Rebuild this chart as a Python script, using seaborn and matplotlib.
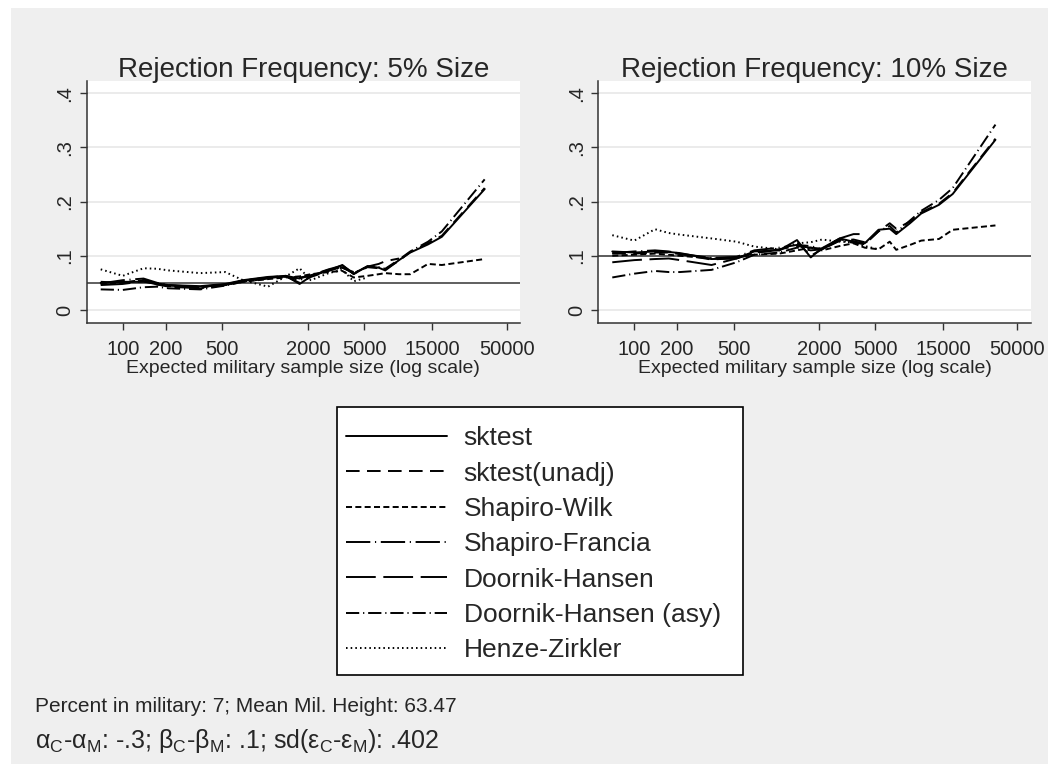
import numpy as np
import pandas as pd
import seaborn as sns
import matplotlib.pyplot as plt
from matplotlib.lines import Line2D
from matplotlib.patches import Rectangle
from matplotlib.ticker import NullLocator

sns.set_theme(style="white")
plt.rcParams['font.family'] = ['Liberation Sans', 'DejaVu Sans']

# expected military sample size (log scale)
sizes = [70, 100, 140, 175, 210, 350, 525, 700, 1050, 1400, 1750, 2100, 2800,
         3500, 4200, 5250, 6300, 7000, 8750, 10500, 14000, 17500, 35000]

tests = ["sktest", "sktest(unadj)", "Shapiro-Wilk", "Shapiro-Francia",
         "Doornik-Hansen", "Doornik-Hansen (asy)", "Henze-Zirkler"]

nan = np.nan
# 5% size panel
rej05_sktest = [0.050, 0.052, 0.052, 0.049, 0.046, 0.044, 0.048, 0.055, 0.061, 0.063, 0.048, 0.062, 0.073,
                0.083, 0.066, 0.081, 0.078, 0.073, 0.092, 0.106, 0.121, 0.135, 0.223]
rej05_unadj = [0.052, 0.050, 0.056, 0.048, 0.045, 0.043, 0.047, 0.054, 0.059, 0.062, 0.050, 0.061, 0.072,
               0.080, 0.067, 0.079, 0.077, 0.075, 0.091, 0.107, 0.123, 0.137, 0.225]
rej05_swilk = [0.048, 0.050, 0.055, 0.047, 0.044, 0.042, 0.046, 0.052, 0.057, 0.060, 0.062, 0.066, 0.070,
               0.072, 0.060, 0.063, 0.066, 0.068, 0.066, 0.066, 0.085, 0.083, 0.094]
rej05_sfrancia = [0.049, 0.055, 0.058, 0.050, 0.046, 0.042, 0.047, 0.054, 0.060, 0.062, 0.055, 0.063, 0.074,
                  0.078, 0.070, nan, nan, nan, nan, nan, nan, nan, nan]
rej05_dh = [0.046, 0.048, 0.053, 0.047, 0.043, 0.040, 0.046, 0.054, 0.060, 0.063, 0.058, 0.064, 0.075,
            0.082, 0.068, 0.080, 0.085, 0.090, 0.095, nan, nan, nan, nan]
rej05_dhasy = [0.038, 0.037, 0.042, 0.043, 0.040, 0.038, 0.045, 0.052, 0.058, 0.062, 0.060, 0.063, 0.074,
               0.078, 0.068, 0.080, 0.079, 0.076, 0.093, 0.108, 0.126, 0.145, 0.241]
rej05_hz = [0.075, 0.063, 0.077, 0.076, 0.073, 0.068, 0.070, 0.055, 0.043, 0.062, 0.077, 0.055, 0.068,
            0.074, 0.053, 0.060, nan, nan, nan, nan, nan, nan, nan]

# 10% size panel
rej10_sktest = [0.108, 0.106, 0.108, 0.107, 0.105, 0.094, 0.095, 0.108, 0.110, 0.129, 0.097, 0.114, 0.132,
                0.126, 0.123, 0.148, 0.150, 0.140, 0.160, 0.178, 0.194, 0.214, 0.314]
rej10_unadj = [0.104, 0.104, 0.106, 0.106, 0.103, 0.093, 0.096, 0.106, 0.110, 0.125, 0.100, 0.112, 0.130,
               0.127, 0.121, 0.145, 0.160, 0.150, 0.163, 0.180, 0.196, 0.216, 0.316]
rej10_swilk = [0.100, 0.102, 0.104, 0.102, 0.100, 0.095, 0.097, 0.102, 0.104, 0.110, 0.115, 0.110, 0.118,
               0.123, 0.115, 0.112, 0.126, 0.111, 0.120, 0.128, 0.131, 0.148, 0.156]
rej10_sfrancia = [0.105, 0.108, 0.110, 0.108, 0.104, 0.096, 0.098, 0.110, 0.115, 0.120, 0.118, 0.112, 0.128,
                  0.130, 0.125, nan, nan, nan, nan, nan, nan, nan, nan]
rej10_dh = [0.088, 0.092, 0.094, 0.095, 0.092, 0.083, 0.095, 0.105, 0.112, 0.118, 0.115, 0.113, 0.132,
            0.140, 0.140, nan, nan, nan, nan, nan, nan, nan, nan]
rej10_dhasy = [0.060, 0.067, 0.072, 0.070, 0.070, 0.074, 0.088, 0.102, 0.106, 0.115, 0.110, 0.112, 0.128,
               0.124, 0.122, 0.145, 0.155, 0.143, 0.165, 0.183, 0.203, 0.225, 0.342]
rej10_hz = [0.138, 0.128, 0.149, 0.142, 0.139, 0.132, 0.126, 0.117, 0.112, 0.123, 0.125, 0.130, 0.126,
            0.125, 0.118, 0.112, nan, nan, nan, nan, nan, nan, nan]

xticks = [100, 200, 500, 2000, 5000, 15000, 50000]
yticks = [0, 0.1, 0.2, 0.3, 0.4]
ytick_labels = ["0", ".1", ".2", ".3", ".4"]

LW = 1.4
# dash patterns, in units of line width
dash_styles = {
    "sktest": "",
    "sktest(unadj)": (7, 3.8),
    "Shapiro-Wilk": (3.1, 1.7),
    "Shapiro-Francia": (12.5, 2.4, 0.6, 2.4),
    "Doornik-Hansen": (15.3, 3.9),
    "Doornik-Hansen (asy)": (6.8, 2, 0.6, 2),
    "Henze-Zirkler": (0.8, 1.6),
}


def make_frame(series):
    rows = []
    for name, vals in zip(tests, series):
        for s, v in zip(sizes, vals):
            if not np.isnan(v):
                rows.append((name, s, v))
    return pd.DataFrame(rows, columns=["test", "size", "rate"])


panels = [
    ("Rejection Frequency: 5% Size", 0.05,
     [rej05_sktest, rej05_unadj, rej05_swilk, rej05_sfrancia, rej05_dh, rej05_dhasy, rej05_hz]),
    ("Rejection Frequency: 10% Size", 0.10,
     [rej10_sktest, rej10_unadj, rej10_swilk, rej10_sfrancia, rej10_dh, rej10_dhasy, rej10_hz]),
]

W, H = 1059, 772
fig = plt.figure(figsize=(W / 100, H / 100), dpi=100, facecolor="white")
fig.patches.append(Rectangle((11 / W, 8 / H), 1 - 22 / W, 1 - 16 / H, transform=fig.transFigure,
                             facecolor="#efefef", edgecolor="none", zorder=-10))

axes_pos = [(86.7, 520.0), (598.3, 1030.7)]
for (title, nominal, series), (x0, x1) in zip(panels, axes_pos):
    ax = fig.add_axes([x0 / W, 1 - 323 / H, (x1 - x0) / W, (323 - 80.7) / H])
    ax.set_facecolor("white")
    df = make_frame(series)
    for y in yticks:
        ax.axhline(y, color="#ebebeb", lw=1.4, zorder=0)
    ax.axhline(nominal, color="#444444", lw=1.2, zorder=1)
    sns.lineplot(data=df, x="size", y="rate", hue="test", style="test",
                 palette={t: "black" for t in tests}, dashes=dash_styles,
                 estimator=None, sort=True, lw=LW, legend=False, ax=ax)
    ax.set_xscale("log")
    ax.set_xlim(55.8, 62000)
    ax.set_ylim(-0.024, 0.423)
    ax.set_xticks(xticks)
    ax.set_xticklabels([str(t) for t in xticks], fontsize=14.5)
    ax.xaxis.set_minor_locator(NullLocator())
    ax.set_yticks(yticks)
    ax.set_yticklabels(ytick_labels, fontsize=14.5, rotation=90, va="center")
    ax.tick_params(axis="both", direction="out", length=5, width=1, color="#333333",
                   left=True, bottom=True, pad=4)
    ax.tick_params(axis="x", pad=7)
    for side in ["top", "right"]:
        ax.spines[side].set_visible(False)
    for side in ["left", "bottom"]:
        ax.spines[side].set_color("#333333")
        ax.spines[side].set_linewidth(1.1)
    ax.set_xlabel("Expected military sample size (log scale)", fontsize=14, labelpad=1)
    ax.set_ylabel("")
    ax.set_title(title, fontsize=20, pad=3)

# legend
handles = []
for t in tests:
    d = dash_styles[t]
    if d == "":
        handles.append(Line2D([0], [0], color="black", lw=LW, linestyle="-"))
    else:
        handles.append(Line2D([0], [0], color="black", lw=LW, dashes=d))
fig.patches.append(Rectangle((337 / W, 1 - 675 / H), 406 / W, 268 / H, transform=fig.transFigure,
                             facecolor="white", edgecolor="black", lw=1.2, zorder=1))
fig.legend(handles, tests, loc="upper left", bbox_to_anchor=(341 / W, 1 - 421 / H),
           frameon=False, fontsize=19, handlelength=3.8, handletextpad=0.65,
           labelspacing=0.43, borderpad=0.2, borderaxespad=0)

fig.text(35 / W, 1 - 706 / H, "Percent in military: 7; Mean Mil. Height: 63.47",
         fontsize=15, va="center", ha="left")
fig.text(35 / W, 1 - 741 / H,
         r"α$_\mathregular{C}$-α$_\mathregular{M}$: -.3; β$_\mathregular{C}$-β$_\mathregular{M}$: .1; "
         r"sd(ε$_\mathregular{C}$-ε$_\mathregular{M}$): .402",
         fontsize=18, va="center", ha="left")

fig.savefig("out.png", dpi=100, facecolor="white")
